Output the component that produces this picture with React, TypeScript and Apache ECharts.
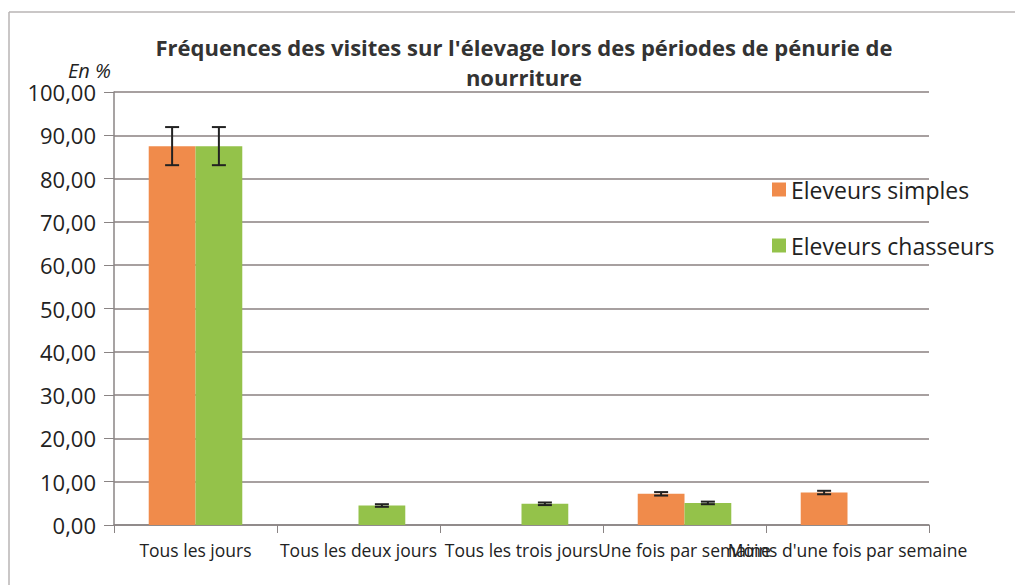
import React, { useEffect, useRef } from "react";
import * as echarts from "echarts";

const categories = [
  "Tous les jours",
  "Tous les deux jours",
  "Tous les trois jours",
  "Une fois par semaine",
  "Moins d'une fois par semaine",
];
const simples = [87.5, 0, 0, 7.2, 7.5];
const chasseurs = [87.5, 4.5, 4.9, 5.1, 0];
const simplesErr = [4.4, 0, 0, 0.4, 0.4];
const chasseursErr = [4.4, 0.3, 0.3, 0.3, 0];
const yTicks = { min: 0, max: 100, interval: 10 };

const ORANGE = "#F08B4B";
const GREEN = "#94C24A";
const BAR_FRAC = 0.287;

export default function App() {
  const ref = useRef<HTMLDivElement>(null);
  useEffect(() => {
    document.body.style.margin = "0";
    const chart = echarts.init(ref.current!, null, { renderer: "svg" });
    const errData: any[] = [];
    simples.forEach((v, i) => {
      if (v > 0) errData.push([i, v - simplesErr[i], v + simplesErr[i], -1]);
    });
    chasseurs.forEach((v, i) => {
      if (v > 0) errData.push([i, v - chasseursErr[i], v + chasseursErr[i], 1]);
    });
    chart.setOption({
      animation: false,
      backgroundColor: "#ffffff",
      textStyle: { fontFamily: "Open Sans" },
      title: {
        text: "Fréquences des visites sur l'élevage lors des périodes de pénurie de\nnourriture",
        left: 519,
        textAlign: "center",
        top: 27,
        textStyle: {
          fontFamily: "Open Sans",
          fontWeight: "bold",
          fontSize: 22,
          color: "#333",
          lineHeight: 30,
        },
      },
      graphic: [
        {
          type: "text",
          left: 68,
          top: 60,
          style: {
            text: "En %",
            font: "italic 20px 'Open Sans'",
            fill: "#222",
          },
        },
        {
          type: "line",
          shape: { x1: 9, y1: 12, x2: 1015, y2: 12 },
          style: { stroke: "#b9b4b4", lineWidth: 1.5 },
        },
        {
          type: "line",
          shape: { x1: 9, y1: 12, x2: 9, y2: 585 },
          style: { stroke: "#b9b4b4", lineWidth: 1.5 },
        },
      ],
      legend: {
        orient: "vertical",
        left: 767,
        top: 173,
        itemGap: 33,
        itemWidth: 14,
        itemHeight: 14,
        icon: "rect",
        textStyle: { fontSize: 23, color: "#222", fontFamily: "Open Sans" },
        data: ["Eleveurs simples", "Eleveurs chasseurs"],
      },
      grid: { left: 114, right: 86, top: 92, bottom: 60, containLabel: false },
      xAxis: {
        type: "category",
        data: categories,
        axisLine: { lineStyle: { color: "#8a8484", width: 1.5 } },
        axisTick: { show: true, length: 8, lineStyle: { color: "#8a8484" } },
        axisLabel: {
          interval: 0,
          fontSize: 17.5,
          color: "#222",
          margin: 16,
          fontFamily: "Open Sans",
        },
      },
      yAxis: {
        type: "value",
        min: yTicks.min,
        max: yTicks.max,
        interval: yTicks.interval,
        axisLine: { show: true, lineStyle: { color: "#8a8484", width: 1.5 } },
        axisTick: { show: true, length: 10, lineStyle: { color: "#8a8484" } },
        splitLine: { lineStyle: { color: "#8a8080", width: 1.5 } },
        axisLabel: {
          fontSize: 22,
          color: "#222",
          margin: 18,
          fontFamily: "Open Sans",
          formatter: (v: number) => v.toFixed(2).replace(".", ","),
        },
      },
      series: [
        {
          name: "Eleveurs simples",
          type: "bar",
          data: simples,
          barWidth: BAR_FRAC * 100 + "%",
          barGap: "0%",
          itemStyle: { color: ORANGE },
        },
        {
          name: "Eleveurs chasseurs",
          type: "bar",
          data: chasseurs,
          barWidth: BAR_FRAC * 100 + "%",
          barGap: "0%",
          itemStyle: { color: GREEN },
        },
        {
          type: "custom",
          data: errData,
          z: 10,
          renderItem: (params: any, api: any) => {
            const idx = api.value(0);
            const lo = api.coord([idx, api.value(1)]);
            const hi = api.coord([idx, api.value(2)]);
            const band = api.size([1, 0])[0];
            const x = lo[0] + api.value(3) * band * BAR_FRAC / 2;
            const cap = 7;
            const st = { stroke: "#222", lineWidth: 2 };
            return {
              type: "group",
              children: [
                { type: "line", shape: { x1: x, y1: hi[1], x2: x, y2: lo[1] }, style: st },
                { type: "line", shape: { x1: x - cap, y1: hi[1], x2: x + cap, y2: hi[1] }, style: st },
                { type: "line", shape: { x1: x - cap, y1: lo[1], x2: x + cap, y2: lo[1] }, style: st },
              ],
            };
          },
        },
      ],
    });
    return () => chart.dispose();
  }, []);
  return <div ref={ref} style={{ width: 1015, height: 585 }} />;
}
